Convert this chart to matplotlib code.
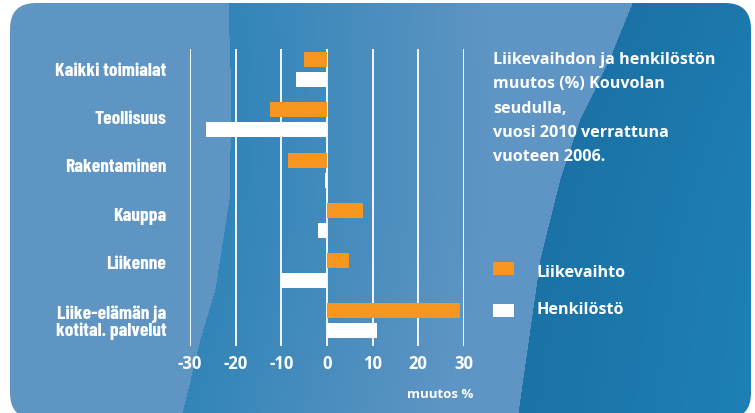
import numpy as np
import matplotlib
matplotlib.use('Agg')
import matplotlib.pyplot as plt
from matplotlib.patches import FancyBboxPatch, Rectangle

# data
categories = ['Kaikki toimialat', 'Teollisuus', 'Rakentaminen', 'Kauppa',
              'Liikenne', 'Liike-elämän ja\nkotital. palvelut']
liikevaihto = [-5.0, -12.5, -8.5, 7.9, 4.8, 29.1]
henkilosto = [-6.8, -26.5, -0.5, -2.0, -10.0, 10.9]
xticks = [-30, -20, -10, 0, 10, 20, 30]
title_lines = ['Liikevaihdon ja henkilöstön', 'muutos (%) Kouvolan', 'seudulla,',
               'vuosi 2010 verrattuna', 'vuoteen 2006.']
legend_labels = ['Liikevaihto', 'Henkilöstö']

ORANGE = '#f7961e'
W, H = 755, 414

fig = plt.figure(figsize=(W / 100, H / 100), dpi=100)
fig.patch.set_facecolor('white')

# background panel with blue bands
bg = fig.add_axes([0, 0, 1, 1])
bg.set_xlim(0, W)
bg.set_ylim(H, 0)
bg.axis('off')
yy, xx = np.mgrid[0:H, 0:W].astype(float)
b1 = np.interp(yy, [4, 100, 200, 290, 340, 414], [228, 231, 229, 215, 200, 182])
b2 = np.interp(yy, [4, 58, 120, 180, 260, 330, 414], [632, 610, 580, 560, 540, 530, 518])
img = np.zeros((H, W, 3))
left = np.array([95, 149, 194]) / 255
mid_a = np.array([50, 133, 184]) / 255
mid_b = np.array([94, 149, 196]) / 255
right_a = np.array([27, 114, 166]) / 255
right_b = np.array([30, 128, 180]) / 255
t_mid = np.clip((xx - b1) / 260.0, 0, 1)[..., None]
t_right = np.clip((xx - b2) / 230.0, 0, 1)[..., None]
mid = mid_a + (mid_b - mid_a) * t_mid
rgt = right_a + (right_b - right_a) * t_right
img[:] = left
m1 = (xx >= b1) & (xx < b2)
m2 = xx >= b2
img[m1] = mid[m1]
img[m2] = rgt[m2]
im = bg.imshow(img, extent=(0, W, H, 0), aspect='auto', interpolation='bilinear')
panel = FancyBboxPatch((10, 4), 741, 416, boxstyle='round,pad=0,rounding_size=26',
                       transform=bg.transData, facecolor='none', edgecolor='none')
bg.add_patch(panel)
im.set_clip_path(panel)

# main chart
ax = fig.add_axes([190 / W, 1 - 347 / H, 274 / W, 297 / H])
ax.patch.set_alpha(0)
for s in ax.spines.values():
    s.set_visible(False)
y = np.arange(len(categories))
for xt in xticks:
    ax.axvline(xt, color='white', lw=1.3, zorder=1)
ax.barh(y - 0.2, liikevaihto, height=0.3, color=ORANGE, zorder=2)
ax.barh(y + 0.2, henkilosto, height=0.3, color='white', zorder=2)
ax.set_xlim(-30, 30)
ax.set_ylim(5.5, -0.41)
ax.set_xticks(xticks)
ax.set_xticklabels([str(v) for v in xticks], fontfamily='Open Sans',
                   fontweight='bold', fontsize=12, color='white')
label_shift = [0.02, 0.07, 0.11, 0.14, 0.18, 0.02]
ax.set_yticks(y - np.array(label_shift))
ax.set_yticklabels(categories, fontfamily=['Barlow Condensed', 'DejaVu Sans'],
                   fontweight='bold', fontsize=14, color='white',
                   multialignment='right', linespacing=1.0)
ax.tick_params(axis='x', length=0, pad=6)
ax.tick_params(axis='y', length=0, pad=17)

fig.text(473 / W, 1 - 398 / H, 'muutos %', ha='right', va='baseline',
         fontfamily='Open Sans', fontweight='bold', fontsize=9.5, color='white')

# title block
for i, line in enumerate(title_lines):
    fig.text(493 / W, 1 - (64 + 24.3 * i) / H, line, ha='left', va='baseline',
             fontfamily='Open Sans', fontweight='bold', fontsize=11.6, color='white')

# legend
for i, (lab, col) in enumerate(zip(legend_labels, [ORANGE, 'white'])):
    ytop = 263 + 42 * i
    bg.add_patch(Rectangle((493, ytop), 21, 13, facecolor=col, edgecolor='none'))
    fig.text(536 / W, 1 - (277 + 37 * i) / H, lab, ha='left', va='baseline',
             fontfamily='Open Sans', fontweight='bold', fontsize=11.6, color='white')

fig.savefig('out.png', dpi=100, facecolor='white')
